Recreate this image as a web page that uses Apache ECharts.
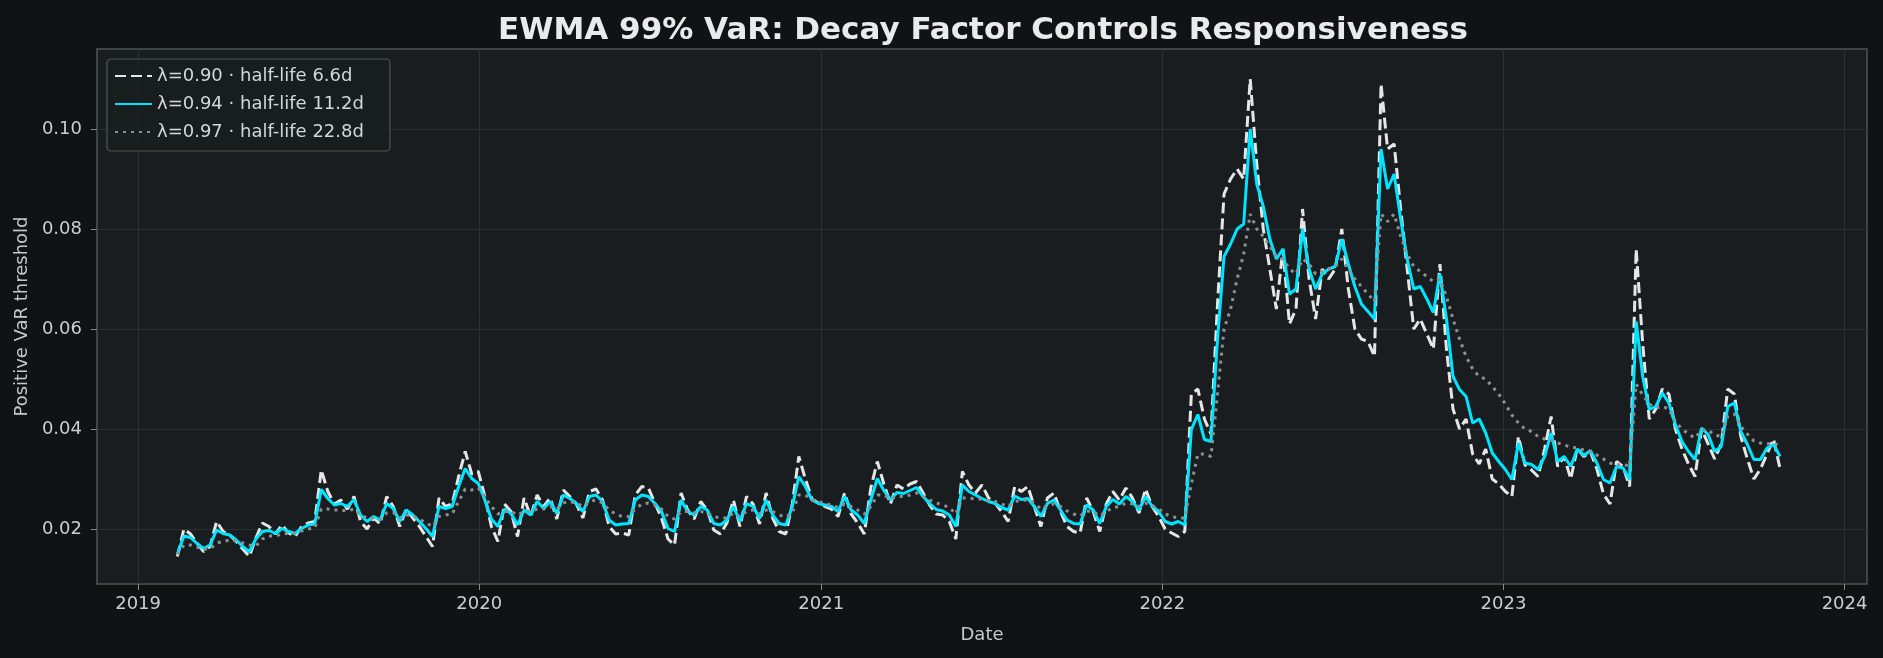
<!DOCTYPE html>
<html>
<head>
<meta charset="utf-8">
<title>EWMA 99% VaR</title>
<script src="https://cdn.jsdelivr.net/npm/echarts@6/dist/echarts.min.js"></script>
<style>
	html, body { margin: 0; padding: 0; background: #0f1314; }
	#ewmachart { width: 1883px; height: 658px; }
</style>
</head>
<body>
<div id="ewmachart"></div>
<script>
	// weekly readings, first one on 2019-02-12
	var startDay = [2019, 1, 12];
	var stepDays = 7;
	var yearTicks = [2019, 2020, 2021, 2022, 2023, 2024];
	var varTicks = [0.02, 0.04, 0.06, 0.08, 0.10];
	var seriesNames = ['λ=0.90 · half-life 6.6d', 'λ=0.94 · half-life 11.2d', 'λ=0.97 · half-life 22.8d'];

	var var090 = [
		0.0145, 0.0200, 0.0190, 0.0172, 0.0155, 0.0165, 0.0215, 0.0195, 0.0188, 0.0175,
		0.0160, 0.0145, 0.0182, 0.0212, 0.0205, 0.0190, 0.0208, 0.0192, 0.0185, 0.0205,
		0.0212, 0.0215, 0.0318, 0.0275, 0.0250, 0.0258, 0.0240, 0.0265, 0.0215, 0.0200,
		0.0222, 0.0210, 0.0265, 0.0245, 0.0205, 0.0240, 0.0222, 0.0205, 0.0185, 0.0165,
		0.0262, 0.0245, 0.0250, 0.0305, 0.0355, 0.0310,
		0.0315, 0.0265, 0.0205, 0.0175, 0.0250, 0.0235, 0.0185, 0.0262, 0.0225, 0.0268,
		0.0245, 0.0262, 0.0220, 0.0278, 0.0265, 0.0250, 0.0222, 0.0275, 0.0280, 0.0258,
		0.0205, 0.0190, 0.0192, 0.0188, 0.0268, 0.0285, 0.0282, 0.0252, 0.0222, 0.0180,
		0.0168, 0.0272, 0.0238, 0.0220, 0.0255, 0.0238, 0.0198, 0.0190, 0.0212, 0.0258,
		0.0205, 0.0265, 0.0250, 0.0210, 0.0272, 0.0222, 0.0195, 0.0190, 0.0250, 0.0345,
		0.0300, 0.0260, 0.0252, 0.0245, 0.0240, 0.0225, 0.0272,
		0.0230, 0.0212, 0.0190, 0.0282, 0.0335, 0.0290, 0.0250, 0.0288, 0.0280, 0.0290,
		0.0295, 0.0272, 0.0248, 0.0230, 0.0228, 0.0215, 0.0180, 0.0315, 0.0288, 0.0272,
		0.0288, 0.0262, 0.0252, 0.0235, 0.0215, 0.0285, 0.0275, 0.0285, 0.0245, 0.0205,
		0.0262, 0.0272, 0.0235, 0.0205, 0.0195, 0.0192, 0.0262, 0.0235, 0.0195, 0.0250,
		0.0275, 0.0258, 0.0282, 0.0262, 0.0232, 0.0280, 0.0245, 0.0225, 0.0200, 0.0192,
		0.0185, 0.0195,
		0.0470, 0.0480, 0.0420, 0.0390, 0.0650, 0.0870, 0.0900, 0.0920, 0.0900, 0.1100,
		0.0930, 0.0800, 0.0720, 0.0640, 0.0760, 0.0610, 0.0640, 0.0840, 0.0700, 0.0620,
		0.0720, 0.0700, 0.0720, 0.0800, 0.0680, 0.0600, 0.0580, 0.0575, 0.0545, 0.1090,
		0.0960, 0.0970, 0.0840, 0.0720, 0.0600, 0.0620, 0.0590, 0.0560, 0.0730, 0.0560,
		0.0440, 0.0400, 0.0420, 0.0350, 0.0330, 0.0360, 0.0300, 0.0290, 0.0275, 0.0265,
		0.0385, 0.0328, 0.0318, 0.0305, 0.0360, 0.0425, 0.0325, 0.0345, 0.0300, 0.0362,
		0.0345, 0.0355, 0.0320, 0.0270, 0.0250, 0.0335, 0.0325, 0.0285, 0.0760, 0.0570,
		0.0420, 0.0440, 0.0480, 0.0470, 0.0400, 0.0360, 0.0330, 0.0305, 0.0400, 0.0370,
		0.0340, 0.0370, 0.0480, 0.0470, 0.0385, 0.0340, 0.0300, 0.0320, 0.0350, 0.0380, 0.0320
	];
	var var094 = [
		0.0150, 0.0186, 0.0183, 0.0171, 0.0161, 0.0168, 0.0198, 0.0191, 0.0188, 0.0178,
		0.0165, 0.0155, 0.0180, 0.0195, 0.0197, 0.0191, 0.0201, 0.0195, 0.0191, 0.0201,
		0.0208, 0.0210, 0.0279, 0.0261, 0.0248, 0.0251, 0.0245, 0.0259, 0.0228, 0.0215,
		0.0225, 0.0218, 0.0251, 0.0241, 0.0215, 0.0238, 0.0228, 0.0215, 0.0201, 0.0185,
		0.0245, 0.0241, 0.0245, 0.0285, 0.0321, 0.0301,
		0.0291, 0.0258, 0.0220, 0.0205, 0.0240, 0.0231, 0.0208, 0.0238, 0.0228, 0.0255,
		0.0241, 0.0255, 0.0231, 0.0268, 0.0261, 0.0251, 0.0235, 0.0265, 0.0268, 0.0255,
		0.0218, 0.0208, 0.0210, 0.0211, 0.0258, 0.0268, 0.0265, 0.0251, 0.0235, 0.0201,
		0.0195, 0.0258, 0.0235, 0.0228, 0.0245, 0.0238, 0.0211, 0.0208, 0.0218, 0.0245,
		0.0215, 0.0251, 0.0245, 0.0221, 0.0258, 0.0228, 0.0211, 0.0208, 0.0245, 0.0305,
		0.0285, 0.0258, 0.0251, 0.0248, 0.0245, 0.0235, 0.0265,
		0.0238, 0.0228, 0.0211, 0.0258, 0.0301, 0.0277, 0.0258, 0.0273, 0.0271, 0.0277,
		0.0283, 0.0265, 0.0251, 0.0239, 0.0236, 0.0228, 0.0205, 0.0288, 0.0275, 0.0268,
		0.0261, 0.0255, 0.0251, 0.0243, 0.0238, 0.0266, 0.0259, 0.0261, 0.0245, 0.0225,
		0.0251, 0.0258, 0.0238, 0.0218, 0.0211, 0.0210, 0.0248, 0.0238, 0.0211, 0.0245,
		0.0259, 0.0250, 0.0265, 0.0255, 0.0238, 0.0265, 0.0246, 0.0235, 0.0215, 0.0210,
		0.0215, 0.0208,
		0.0399, 0.0429, 0.0379, 0.0375, 0.0580, 0.0745, 0.0770, 0.0800, 0.0810, 0.1000,
		0.0890, 0.0845, 0.0780, 0.0740, 0.0760, 0.0670, 0.0680, 0.0800, 0.0720, 0.0680,
		0.0710, 0.0720, 0.0725, 0.0780, 0.0730, 0.0685, 0.0650, 0.0635, 0.0620, 0.0960,
		0.0880, 0.0910, 0.0820, 0.0740, 0.0680, 0.0685, 0.0660, 0.0633, 0.0710, 0.0620,
		0.0505, 0.0479, 0.0465, 0.0412, 0.0420, 0.0392, 0.0352, 0.0335, 0.0319, 0.0299,
		0.0372, 0.0332, 0.0329, 0.0319, 0.0345, 0.0392, 0.0335, 0.0345, 0.0325, 0.0360,
		0.0347, 0.0357, 0.0332, 0.0299, 0.0292, 0.0325, 0.0322, 0.0299, 0.0615, 0.0505,
		0.0439, 0.0445, 0.0472, 0.0452, 0.0409, 0.0375, 0.0355, 0.0339, 0.0402, 0.0389,
		0.0355, 0.0365, 0.0445, 0.0452, 0.0395, 0.0369, 0.0339, 0.0339, 0.0362, 0.0369, 0.0345
	];
	var var097 = [
		0.0150, 0.0168, 0.0168, 0.0164, 0.0160, 0.0160, 0.0172, 0.0175, 0.0178, 0.0176,
		0.0172, 0.0168, 0.0166, 0.0180, 0.0186, 0.0186, 0.0190, 0.0191, 0.0192, 0.0196,
		0.0200, 0.0202, 0.0240, 0.0240, 0.0238, 0.0238, 0.0236, 0.0240, 0.0228, 0.0222,
		0.0222, 0.0220, 0.0232, 0.0233, 0.0222, 0.0228, 0.0226, 0.0220, 0.0212, 0.0205,
		0.0225, 0.0228, 0.0230, 0.0255, 0.0280, 0.0278,
		0.0282, 0.0265, 0.0245, 0.0230, 0.0235, 0.0235, 0.0228, 0.0235, 0.0235, 0.0240,
		0.0240, 0.0245, 0.0240, 0.0252, 0.0255, 0.0252, 0.0245, 0.0255, 0.0258, 0.0252,
		0.0238, 0.0230, 0.0225, 0.0225, 0.0240, 0.0250, 0.0252, 0.0248, 0.0240, 0.0225,
		0.0220, 0.0235, 0.0235, 0.0232, 0.0235, 0.0232, 0.0225, 0.0222, 0.0222, 0.0232,
		0.0225, 0.0235, 0.0238, 0.0230, 0.0238, 0.0235, 0.0228, 0.0224, 0.0232, 0.0268,
		0.0268, 0.0258, 0.0255, 0.0250, 0.0248, 0.0243, 0.0250,
		0.0245, 0.0238, 0.0230, 0.0245, 0.0268, 0.0268, 0.0260, 0.0265, 0.0265, 0.0268,
		0.0272, 0.0265, 0.0258, 0.0252, 0.0248, 0.0243, 0.0230, 0.0262, 0.0262, 0.0260,
		0.0260, 0.0257, 0.0255, 0.0250, 0.0245, 0.0255, 0.0257, 0.0258, 0.0252, 0.0240,
		0.0247, 0.0250, 0.0245, 0.0236, 0.0230, 0.0226, 0.0236, 0.0235, 0.0226, 0.0235,
		0.0243, 0.0245, 0.0252, 0.0250, 0.0245, 0.0252, 0.0247, 0.0240, 0.0230, 0.0225,
		0.0222, 0.0222,
		0.0290, 0.0350, 0.0350, 0.0345, 0.0470, 0.0600, 0.0640, 0.0700, 0.0750, 0.0830,
		0.0800, 0.0785, 0.0765, 0.0745, 0.0740, 0.0720, 0.0710, 0.0740, 0.0730, 0.0710,
		0.0715, 0.0720, 0.0725, 0.0740, 0.0720, 0.0700, 0.0685, 0.0670, 0.0655, 0.0830,
		0.0815, 0.0830, 0.0785, 0.0750, 0.0725, 0.0715, 0.0705, 0.0695, 0.0700, 0.0665,
		0.0620, 0.0580, 0.0545, 0.0520, 0.0505, 0.0500, 0.0485, 0.0470, 0.0450, 0.0428,
		0.0412, 0.0400, 0.0395, 0.0385, 0.0380, 0.0378, 0.0372, 0.0368, 0.0364, 0.0362,
		0.0358, 0.0355, 0.0348, 0.0340, 0.0332, 0.0328, 0.0330, 0.0325, 0.0490, 0.0468,
		0.0450, 0.0442, 0.0445, 0.0440, 0.0415, 0.0400, 0.0390, 0.0382, 0.0398, 0.0398,
		0.0388, 0.0385, 0.0425, 0.0430, 0.0405, 0.0390, 0.0376, 0.0372, 0.0370, 0.0372, 0.0366
	];

	function weekpairs(vals) {
		var t0 = new Date(startDay[0], startDay[1], startDay[2]).getTime();
		var out = [];
		for (var i = 0; i < vals.length; i++) {
			out.push([t0 + i * stepDays * 86400000, vals[i]]);
		}
		return out;
	}

	var yearStamps = yearTicks.map(function (y) { return new Date(y, 0, 1).getTime(); });
	var fontname = 'DejaVu Sans';

	var myewmachart = echarts.init(document.getElementById('ewmachart'), null, { renderer: 'canvas' });
	var ewmaoption = {
		backgroundColor: '#0f1314',
		animation: false,
		textStyle: { fontFamily: fontname },
		title: {
			text: 'EWMA 99% VaR: Decay Factor Controls Responsiveness',
			left: 978,
			top: 10,
			textAlign: 'center',
			textStyle: { color: '#e8eaeb', fontSize: 31, fontWeight: 'bold', fontFamily: fontname }
		},
		grid: {
			left: 97, right: 16, top: 49, bottom: 74,
			outerBoundsMode: 'none',
			show: true,
			backgroundColor: '#191d1f',
			borderColor: '#4d5557',
			borderWidth: 1.5
		},
		legend: {
			orient: 'vertical',
			left: 107,
			top: 59,
			padding: [7, 26, 9, 7],
			itemGap: 8,
			itemWidth: 37,
			itemHeight: 14,
			itemStyle: { opacity: 0 },
			backgroundColor: 'rgba(25,29,31,0.85)',
			borderColor: '#4d5557',
			borderWidth: 1.2,
			borderRadius: 4,
			textStyle: { color: '#d3d7d9', fontSize: 18, fontFamily: fontname, lineHeight: 20 },
			data: seriesNames
		},
		// dates kept as timestamps on a value axis so the year ticks can be pinned
		xAxis: {
			type: 'value',
			min: new Date(2018, 10, 18).getTime(),
			max: new Date(2024, 0, 25).getTime(),
			name: 'Date',
			nameLocation: 'middle',
			nameGap: 42,
			nameTextStyle: { color: '#c3c8cb', fontSize: 18, fontFamily: fontname },
			axisLine: { show: false, onZero: false },
			axisTick: { show: true, length: 6, customValues: yearStamps, lineStyle: { color: '#8a9092', width: 1 } },
			axisLabel: {
				customValues: yearStamps,
				margin: 11,
				color: '#c9ced1',
				fontSize: 18,
				fontFamily: fontname,
				formatter: function (v) { return String(new Date(v).getFullYear()); }
			},
			splitLine: { show: true, lineStyle: { color: '#2a3133', width: 1 } }
		},
		yAxis: {
			type: 'value',
			min: 0.009,
			max: 0.116,
			name: 'Positive VaR threshold',
			nameLocation: 'middle',
			nameRotate: 90,
			nameGap: 66,
			nameTextStyle: { color: '#c3c8cb', fontSize: 18, fontFamily: fontname },
			axisLine: { show: false },
			axisTick: { show: true, length: 6, customValues: varTicks, lineStyle: { color: '#8a9092', width: 1 } },
			axisLabel: {
				customValues: varTicks,
				margin: 15,
				color: '#c9ced1',
				fontSize: 18,
				fontFamily: fontname,
				formatter: function (v) { return v.toFixed(2); }
			},
			splitLine: { show: true, lineStyle: { color: '#2a3133', width: 1 } }
		},
		series: [
			{
				name: seriesNames[0],
				type: 'line',
				symbol: 'none',
				data: weekpairs(var090),
				lineStyle: { color: '#e6e6e6', width: 3, type: [11, 5] },
				itemStyle: { color: '#e6e6e6' },
				z: 2
			},
			{
				name: seriesNames[1],
				type: 'line',
				symbol: 'none',
				data: weekpairs(var094),
				lineStyle: { color: '#00e5ff', width: 3 },
				itemStyle: { color: '#00e5ff' },
				z: 3
			},
			{
				name: seriesNames[2],
				type: 'line',
				symbol: 'none',
				data: weekpairs(var097),
				lineStyle: { color: '#8c9193', width: 3, type: [3, 5] },
				itemStyle: { color: '#8c9193' },
				z: 4
			}
		]
	};
	myewmachart.setOption(ewmaoption);
</script>
</body>
</html>
